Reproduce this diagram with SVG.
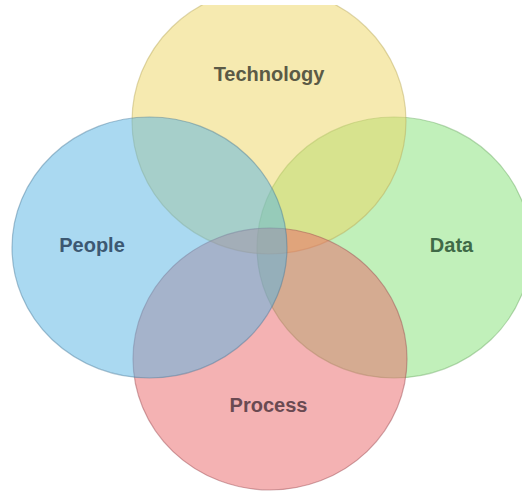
<svg xmlns="http://www.w3.org/2000/svg" width="522" height="498" viewBox="0 0 522 498">
  <style>
    .c { fill-opacity: 0.5; stroke-width: 1.2; stroke-opacity: 0.45; }
    .lbl { font-family: "Liberation Sans", Arial, sans-serif; font-size: 20px; font-weight: bold; text-anchor: middle; }
  </style>
  <rect x="0" y="0" width="522" height="498" fill="#ffffff"/>
  <g id="data">
    <ellipse class="c" cx="394" cy="247.5" rx="137" ry="130.5" fill="#83e175" stroke="#6aa862"/>
    <text class="lbl" x="451.5" y="252" fill="#3f6a47">Data</text>
  </g>
  <g id="technology">
    <ellipse class="c" cx="269" cy="121" rx="137" ry="133" fill="#edd561" stroke="#b9a95a"/>
    <text class="lbl" x="269" y="81" fill="#5b5a46">Technology</text>
  </g>
  <g id="process">
    <ellipse class="c" cx="270" cy="359" rx="137" ry="131" fill="#e96567" stroke="#9a4a50"/>
    <text class="lbl" x="268.5" y="412" fill="#6a4a52">Process</text>
  </g>
  <g id="people">
    <ellipse class="c" cx="149.5" cy="247.5" rx="137.5" ry="130.5" fill="#55b3e3" stroke="#4a7a9a"/>
    <text class="lbl" x="92" y="252" fill="#3c5872">People</text>
  </g>
  <g id="connectors"></g>
  <rect x="0" y="0" width="522" height="5" fill="#ffffff"/>
</svg>
